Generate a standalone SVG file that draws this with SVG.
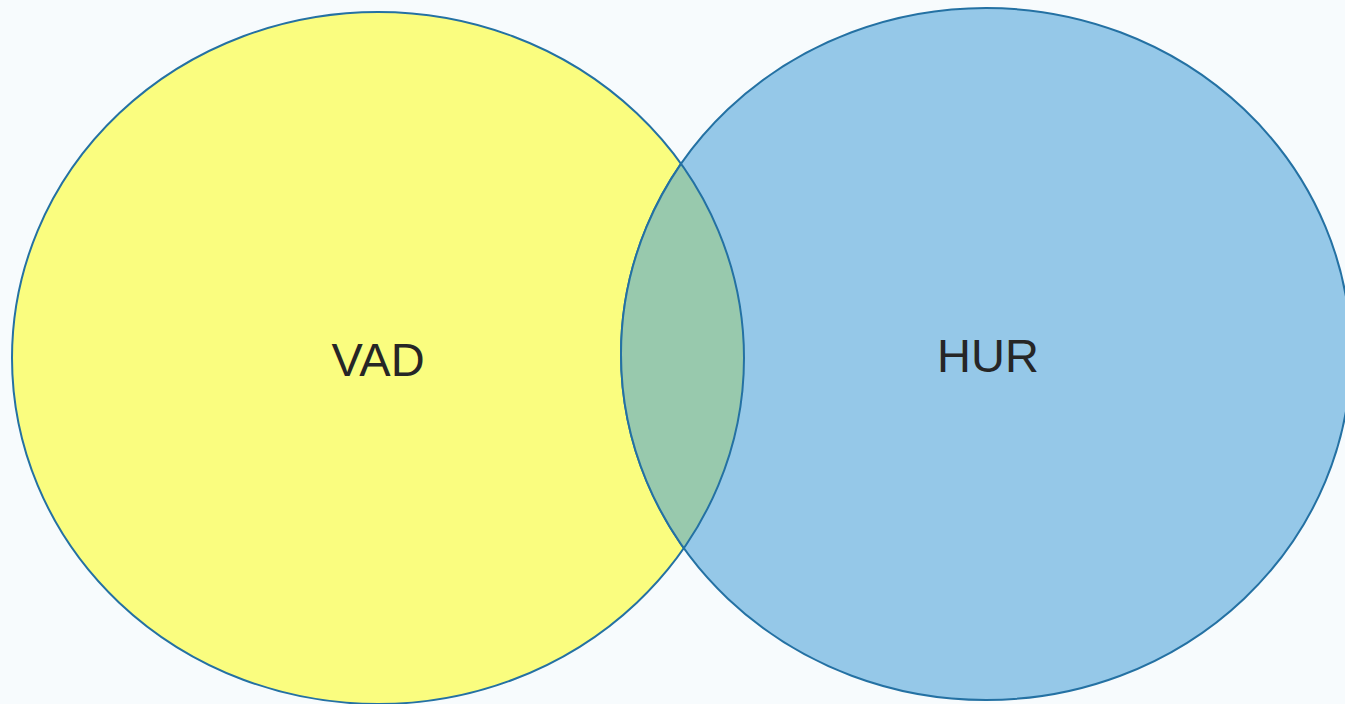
<svg xmlns="http://www.w3.org/2000/svg" width="1345" height="704" viewBox="0 0 1345 704">
<style>
.set{stroke:#2471a3;stroke-width:2}
.lbl{font-family:"Liberation Sans",Arial,sans-serif;font-size:47px;fill:#262626;text-anchor:middle}
</style>
<defs>
<clipPath id="clipA"><ellipse cx="378" cy="358" rx="366" ry="346"/></clipPath>
<clipPath id="clipB"><ellipse cx="986" cy="354" rx="365" ry="346"/></clipPath>
</defs>
<rect width="1345" height="704" fill="#f7fbfd"/>
<g id="vad">
<ellipse class="set" cx="378" cy="358" rx="366" ry="346" fill="#fafd7f"/>
<text class="lbl" x="378" y="376">VAD</text>
</g>
<g id="hur">
<ellipse class="set" cx="986" cy="354" rx="365" ry="346" fill="#95c8e8"/>
<text class="lbl" x="988" y="372">HUR</text>
</g>
<g id="overlap">
<ellipse class="set" cx="378" cy="358" rx="366" ry="346" fill="#98c9ad" clip-path="url(#clipB)"/>
<ellipse class="set" cx="986" cy="354" rx="365" ry="346" fill="none" clip-path="url(#clipA)"/>
</g>
</svg>
